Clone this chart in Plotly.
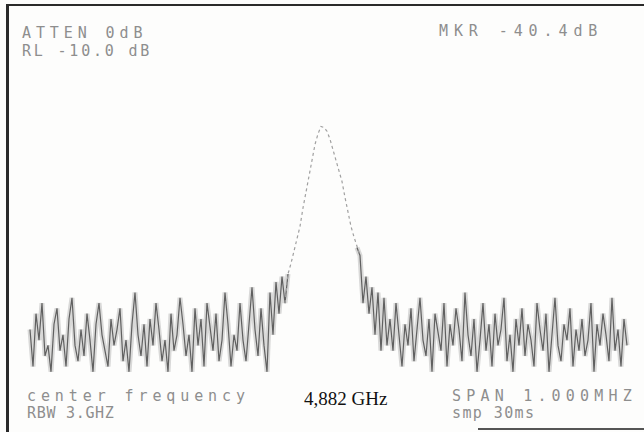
import plotly.graph_objects as go

# Spectrum trace (dB) sampled across the 1 MHz span, one value per display bin
levels = [
    -71, -78, -68, -73, -66, -76, -74, -79, -70, -67,
    -75, -72, -78, -69, -65, -74, -77, -71, -76, -68,
    -73, -79, -70, -66, -72, -75, -78, -69, -74, -71,
    -67, -77, -73, -79, -70, -64, -72, -76, -70, -78,
    -69, -74, -66, -71, -77, -73, -79, -68, -75, -72,
    -65, -70, -76, -72, -79, -67, -74, -69, -78, -66,
    -71, -75, -68, -77, -73, -64, -70, -78, -72, -75,
    -66, -73, -77, -69, -63, -71, -76, -67, -74, -79,
    -64, -72, -62, -68, -61, -66,
    -60.5, -58.5, -56, -54, -51.5, -48, -45, -42, -38.5, -36, -34, -32.6,
    -32.8, -33.5, -35, -37, -38.5, -40.5, -43, -46, -49, -51.5, -53.5, -55.5,
    -57, -66, -61, -68, -63, -72, -64, -75, -65, -74,
    -69, -75, -66, -72, -78, -70, -74, -67, -77, -71,
    -65, -73, -76, -69, -79, -68, -72, -75, -66, -78,
    -70, -74, -67, -71, -77, -64, -72, -76, -69, -79,
    -73, -66, -75, -70, -78, -68, -74, -71, -65, -77,
    -72, -79, -69, -74, -67, -76, -70, -73, -78, -66,
    -71, -75, -68, -79, -72, -65, -74, -77, -70, -73,
    -67, -78, -71, -75, -69, -76, -73, -66, -79, -70,
    -74, -68, -72, -77, -65, -75, -71, -78, -69, -74,
]
peak_first, peak_last = 86, 109   # bins of the fast-swept carrier (faint dotted)

top_left_lines = ["ATTEN 0dB", "RL -10.0 dB"]
top_right_line = "MKR -40.4dB"
bottom_left_lines = ["center frequency", "RBW 3.GHZ"]
center_freq_label = "4,882 GHz"
bottom_right_lines = ["SPAN 1.000MHZ", "smp 30ms"]

W, H = 644, 432
bins = list(range(len(levels)))
noise = [None if peak_first < i < peak_last else v for i, v in enumerate(levels)]
peak_x = bins[peak_first - 1:peak_last + 2]
peak_y = levels[peak_first - 1:peak_last + 2]

fig = go.Figure()
fig.add_trace(go.Scatter(x=bins, y=noise, mode="lines",
                         line=dict(color="rgba(150,150,150,0.35)", width=5),
                         connectgaps=False, hoverinfo="skip"))
fig.add_trace(go.Scatter(x=bins, y=noise, mode="lines",
                         line=dict(color="#606060", width=1.2),
                         connectgaps=False))
fig.add_trace(go.Scatter(x=peak_x, y=peak_y, mode="lines",
                         line=dict(color="#a0a0a0", width=1.2, dash="dot")))

def px2x(px):
    return px / W

def py2y(py):
    return 1 - py / H

gray = "#8e8e8e"
mono = "DejaVu Sans Mono"

def mono_text(txt, x, y, ls, size=15):
    fig.add_annotation(
        text=f'<span style="letter-spacing:{ls}px">{txt}</span>',
        x=px2x(x), y=py2y(y), xref="paper", yref="paper",
        xanchor="left", yanchor="middle", showarrow=False,
        font=dict(family=mono, size=size, color=gray))

mono_text(top_left_lines[0], 20, 33, 4.9)
mono_text(top_left_lines[1], 20, 51, 2.8)
mono_text(top_right_line, 437, 31, 5.9)
mono_text(bottom_left_lines[0], 25, 396, 4.9)
mono_text(bottom_left_lines[1], 25, 413, 0.7)
mono_text(bottom_right_lines[0], 450, 396, 5.2)
mono_text(bottom_right_lines[1], 450, 413, 1.4)

fig.add_annotation(text=center_freq_label, x=px2x(302), y=py2y(398),
                   xref="paper", yref="paper", xanchor="left", yanchor="middle",
                   showarrow=False,
                   font=dict(family="Liberation Serif", size=19, color="#111"))

# frame of the printout
line_col = "#2a2a2a"
fig.add_shape(type="line", xref="paper", yref="paper",
              x0=px2x(6), x1=1, y0=py2y(5), y1=py2y(5),
              line=dict(color=line_col, width=2))
fig.add_shape(type="line", xref="paper", yref="paper",
              x0=px2x(7.5), x1=px2x(7.5), y0=py2y(4), y1=0,
              line=dict(color=line_col, width=3))
fig.add_shape(type="line", xref="paper", yref="paper",
              x0=px2x(478), x1=1, y0=py2y(429), y1=py2y(429),
              line=dict(color="#555", width=2))

fig.update_xaxes(range=[-10, 204.67], visible=False, fixedrange=True)
fig.update_yaxes(range=[-90.38, -8.68], visible=False, fixedrange=True)
fig.update_layout(width=W, height=H, margin=dict(l=0, r=0, t=0, b=0),
                  paper_bgcolor="#fdfdfc", plot_bgcolor="#fdfdfc",
                  showlegend=False)

fig.write_html("out.html")
